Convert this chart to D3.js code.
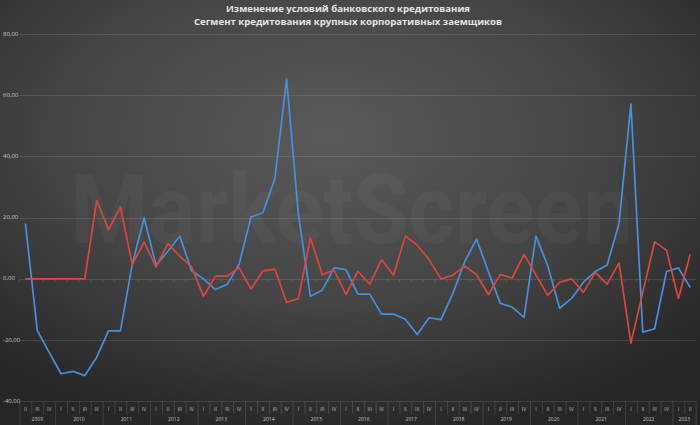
<html lang="ru">
<head>
    <meta charset="utf-8">
    <title>Изменение условий банковского кредитования</title>
    <style>
        body {
            margin: 0;
            background: #2b2b2b;
        }

        .grid line {
            stroke: #ffffff;
            stroke-opacity: 0.11;
        }

        .ylabels text {
            font: 6px "Open Sans", "DejaVu Sans", sans-serif;
            fill: #c4c4c4;
        }

        .xaxis line {
            stroke: #ffffff;
            stroke-opacity: 0.13;
        }

        .xaxis text {
            font: 5px "Open Sans", "DejaVu Sans", sans-serif;
            fill: #c0c0c0;
            text-anchor: middle;
        }

        .title {
            font: bold 9.6px "Open Sans", "DejaVu Sans", sans-serif;
            fill: #e6e6e6;
            text-anchor: middle;
        }
    </style>
</head>
<body>
<div id="chart"></div>
<script src="https://d3js.org/d3.v7.min.js"></script>
<script>
    // periods: 2009 II .. 2023 II
    const years = ["2009", "2010", "2011", "2012", "2013", "2014", "2015", "2016",
        "2017", "2018", "2019", "2020", "2021", "2022", "2023"];
    const quarters = [["II", "III", "IV"], ["I", "II", "III", "IV"], ["I", "II", "III", "IV"],
        ["I", "II", "III", "IV"], ["I", "II", "III", "IV"], ["I", "II", "III", "IV"],
        ["I", "II", "III", "IV"], ["I", "II", "III", "IV"], ["I", "II", "III", "IV"],
        ["I", "II", "III", "IV"], ["I", "II", "III", "IV"], ["I", "II", "III", "IV"],
        ["I", "II", "III", "IV"], ["I", "II", "III", "IV"], ["I", "II"]];

    const blueValues = [18.1, -16.9, -24.0,
        -31.0, -30.2, -31.6, -25.6,
        -17.0, -17.0, 4.8, 19.9,
        4.5, 9.0, 13.9, 2.6,
        0.0, -3.5, -1.8, 4.8,
        20.2, 21.6, 32.5, 65.3,
        20.8, -5.7, -3.7, 3.6,
        3.0, -5.0, -5.0, -11.5,
        -11.5, -13.2, -18.2, -12.7,
        -13.3, -4.8, 5.6, 13.0,
        2.3, -8.0, -9.2, -12.6,
        14.0, 4.2, -9.6, -6.4,
        -1.1, 2.4, 4.5, 18.1,
        57.1, -17.4, -16.3, 2.4,
        3.6, -2.8];

    const redValues = [0, 0, 0,
        0, 0, 0, 25.6,
        16.1, 23.4, 4.7, 12.0,
        3.9, 11.6, 7.4, 3.9,
        -5.7, 0.9, 0.9, 3.7,
        -3.3, 2.6, 3.2, -7.7,
        -6.4, 13.4, 1.4, 2.8,
        -5.1, 2.5, -1.7, 6.3,
        1.2, 14.0, 11.0, 6.3,
        0.0, 1.2, 4.2, 1.4,
        -5.1, 1.4, 0.3, 8.0,
        1.3, -5.4, -1.1, 0.0,
        -4.4, 2.1, -1.7, 5.2,
        -21.0, -4.4, 12.1, 9.4,
        -6.4, 8.1];

    const yTicks = [-40, -20, 0, 20, 40, 60, 80];
    const titleLines = ["Изменение условий банковского кредитования",
        "Сегмент кредитования крупных корпоративных заемщиков"];

    const width = 700;
    const height = 425;

    const periods = [];
    years.forEach(function (y, i) {
        quarters[i].forEach(function (q) {
            periods.push({year: y, quarter: q, id: y + " " + q});
        });
    });

    const x = d3.scaleBand()
        .domain(periods.map(d => d.id))
        .range([19.5, 696.2])
        .padding(0);

    const y = d3.scaleLinear()
        .domain([-40, 80])
        .range([401.3, 34]);

    const svg = d3.select("#chart").append("svg")
        .attr("width", width)
        .attr("height", height);

    // background
    const defs = svg.append("defs");
    const grad = defs.append("radialGradient")
        .attr("id", "bg")
        .attr("cx", "47%")
        .attr("cy", "32%")
        .attr("r", "72%");
    grad.append("stop").attr("offset", "0%").attr("stop-color", "#5a5a5a");
    grad.append("stop").attr("offset", "55%").attr("stop-color", "#444444");
    grad.append("stop").attr("offset", "100%").attr("stop-color", "#262626");

    svg.append("rect")
        .attr("width", width)
        .attr("height", height)
        .attr("fill", "url(#bg)");

    // watermark, squeezed horizontally to the width seen in the picture
    const mark = svg.append("text")
        .attr("x", 0)
        .attr("y", 0)
        .style("font", "bold 96px Roboto, 'DejaVu Sans', sans-serif")
        .style("fill", "#ffffff")
        .style("fill-opacity", 0.035)
        .text("MarketScreen");
    const markW = mark.node().getComputedTextLength();
    mark.attr("transform", "translate(70,243) scale(" + (563 / markW) + ",1)");

    // grid
    svg.append("g")
        .attr("class", "grid")
        .selectAll("line")
        .data(yTicks)
        .enter().append("line")
        .attr("x1", x.range()[0])
        .attr("x2", x.range()[1])
        .attr("y1", d => Math.round(y(d)) + 0.5)
        .attr("y2", d => Math.round(y(d)) + 0.5);

    svg.append("g")
        .attr("class", "ylabels")
        .selectAll("text")
        .data(yTicks)
        .enter().append("text")
        .attr("x", 3)
        .attr("y", d => y(d) + 1.5)
        .text(d => d3.format(".2f")(d).replace(".", ",").replace("−", "-"));

    // small ticks on zero line
    const zeroY = Math.round(y(0)) + 0.5;
    svg.append("g")
        .attr("class", "xaxis")
        .selectAll("line")
        .data(periods)
        .enter().append("line")
        .attr("x1", d => x(d.id))
        .attr("x2", d => x(d.id))
        .attr("y1", zeroY)
        .attr("y2", zeroY + 2.5);

    // category axis at the bottom
    const axisTop = y(-40);
    const xaxis = svg.append("g").attr("class", "xaxis");

    xaxis.selectAll(".qsep")
        .data(periods)
        .enter().append("line")
        .attr("x1", d => x(d.id) + 0.5)
        .attr("x2", d => x(d.id) + 0.5)
        .attr("y1", axisTop)
        .attr("y2", d => d.quarter === quarters[years.indexOf(d.year)][0] ? height : axisTop + 13);

    xaxis.append("line")
        .attr("x1", x.range()[1])
        .attr("x2", x.range()[1])
        .attr("y1", axisTop)
        .attr("y2", height);

    xaxis.selectAll(".qlabel")
        .data(periods)
        .enter().append("text")
        .attr("x", d => x(d.id) + x.bandwidth() / 2)
        .attr("y", axisTop + 9.5)
        .text(d => d.quarter);

    xaxis.selectAll(".ylabel")
        .data(years)
        .enter().append("text")
        .attr("x", function (d, i) {
            const first = x(d + " " + quarters[i][0]);
            const last = x(d + " " + quarters[i][quarters[i].length - 1]) + x.bandwidth();
            return (first + last) / 2;
        })
        .attr("y", axisTop + 19.5)
        .text(d => d);

    // series
    const line = d3.line()
        .x((d, i) => x(periods[i].id) + x.bandwidth() / 2)
        .y(d => y(d));

    svg.append("path")
        .datum(blueValues)
        .attr("fill", "none")
        .attr("stroke", "#4a8fdb")
        .attr("stroke-width", 1.7)
        .attr("stroke-linejoin", "round")
        .attr("d", line);

    svg.append("path")
        .datum(redValues)
        .attr("fill", "none")
        .attr("stroke", "#d9483f")
        .attr("stroke-width", 1.7)
        .attr("stroke-linejoin", "round")
        .attr("d", line);

    // title
    svg.selectAll(".title")
        .data(titleLines)
        .enter().append("text")
        .attr("class", "title")
        .attr("x", 348)
        .attr("y", (d, i) => 11.5 + i * 13.5)
        .text(d => d);
</script>
</body>
</html>
